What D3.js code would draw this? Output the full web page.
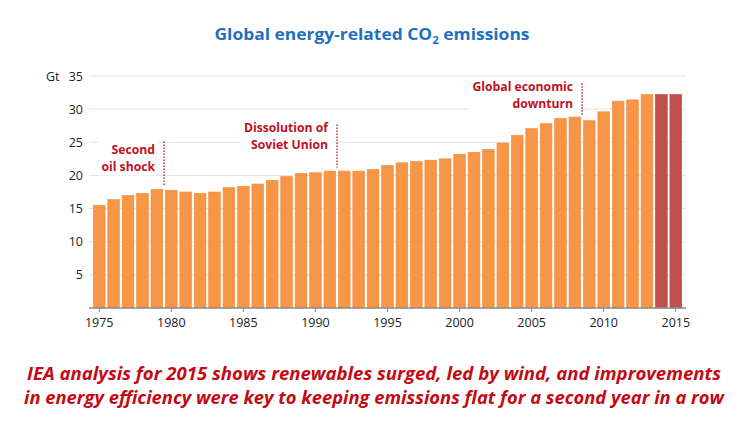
<!DOCTYPE html>
<html>
<head>
<meta charset="utf-8">
<script src="https://cdn.jsdelivr.net/npm/d3@7"></script>
<style>
  body { margin: 0; background: #fff; }
  svg { display: block; font-family: 'Open Sans', sans-serif; }
</style>
</head>
<body>
<div id="chart-area"></div>
<script>
const WIDTH = 743;
const HEIGHT = 428;
const MARGIN = {top: 76, right: 60, bottom: 120, left: 92};

// Gt CO2 per year
const years = d3.range(1975, 2016);
const emissions = [
  15.5, 16.35, 16.95, 17.3, 17.9, 17.75, 17.5, 17.3, 17.5, 18.15,
  18.35, 18.7, 19.25, 19.85, 20.3, 20.4, 20.65, 20.65, 20.65, 20.9,
  21.5, 21.9, 22.1, 22.3, 22.5, 23.2, 23.5, 23.9, 24.9, 26.05,
  27.05, 27.8, 28.6, 28.8, 28.25, 29.6, 31.2, 31.4, 32.2, 32.2, 32.2
];
const highlightYears = [2014, 2015];
const yTicks = [5, 10, 15, 20, 25, 30, 35];
const xTicks = [1975, 1980, 1985, 1990, 1995, 2000, 2005, 2010, 2015];
// event markers: year of dotted line, its top/bottom (Gt) and the label's first baseline (Gt)
const annotations = [
  {lines: ['Second', 'oil shock'], year: 1979.5, top: 25.1, bottom: 18.5, label: 23.3},
  {lines: ['Dissolution of', 'Soviet Union'], year: 1991.5, top: 27.7, bottom: 21.2, label: 26.5},
  {lines: ['Global economic', 'downturn'], year: 2008.5, top: 33.9, bottom: 29.1, label: 32.8}
];
const caption = [
  'IEA analysis for 2015 shows renewables surged, led by wind, and improvements',
  'in energy efficiency were key to keeping emissions flat for a second year in a row'
];

main();

function main() {
  const data = years.map((year, i) => ({year, value: emissions[i]}));
  const svg = d3.select('#chart-area').append('svg')
    .attr('width', WIDTH)
    .attr('height', HEIGHT);
  showGraph(svg, data);
}

function showGraph(svg, data) {
  const innerH = HEIGHT - MARGIN.top - MARGIN.bottom;
  const scaleY = d3.scaleLinear()
    .domain([0, 35])
    .range([MARGIN.top + innerH, MARGIN.top]);
  const scaleX = d3.scaleBand()
    .domain(years)
    .range([MARGIN.left, WIDTH - MARGIN.right])
    .paddingInner(0.19)
    .paddingOuter(0.095);
  const yearX = y => scaleX(Math.floor(y)) + scaleX.bandwidth() / 2 + (y % 1) * scaleX.step();

  svg.append('text')
    .attr('x', 372)
    .attr('y', 40)
    .attr('text-anchor', 'middle')
    .attr('fill', '#1f6fc0')
    .attr('font-size', 16.5)
    .attr('font-weight', 'bold')
    .attr('textLength', 315)
    .attr('lengthAdjust', 'spacingAndGlyphs')
    .html('Global energy-related CO<tspan font-size="11" dy="4">2</tspan><tspan dy="-4"> emissions</tspan>');

  // gridlines
  svg.append('g')
    .selectAll('line')
    .data(yTicks)
    .enter()
    .append('line')
    .attr('x1', 89)
    .attr('x2', 686)
    .attr('y1', d => scaleY(d))
    .attr('y2', d => scaleY(d))
    .attr('stroke', '#e3e3e3')
    .attr('stroke-width', 1);

  const axisLeftCall = d3.axisLeft(scaleY)
    .tickValues(yTicks)
    .tickSize(0)
    .tickPadding(8);
  const yAxis = svg.append('g')
    .attr('transform', `translate(${ 91 }, 0)`)
    .call(axisLeftCall);
  yAxis.select('.domain').remove();
  yAxis.selectAll('text')
    .attr('font-size', 12.5)
    .attr('font-family', 'Open Sans, sans-serif')
    .attr('fill', '#222');

  svg.append('text')
    .attr('x', 46)
    .attr('y', scaleY(35) + 4.5)
    .attr('font-size', 12.5)
    .attr('fill', '#222')
    .text('Gt');

  // annotations (white backed, covering gridlines)
  annotations.forEach(a => {
    const x = yearX(a.year);
    const t = svg.append('text')
      .attr('text-anchor', 'end')
      .attr('font-size', 12.2)
      .attr('font-weight', 'bold')
      .attr('fill', '#c0101e');
    a.lines.forEach((line, i) => {
      t.append('tspan')
        .attr('x', x - 9)
        .attr('y', scaleY(a.label) + i * 17)
        .text(line);
    });
    const box = t.node().getBBox();
    svg.insert('rect', () => t.node())
      .attr('x', box.x - 3)
      .attr('y', box.y - 1)
      .attr('width', box.width + 6)
      .attr('height', box.height + 2)
      .attr('fill', '#fff');
    svg.append('line')
      .attr('x1', x)
      .attr('x2', x)
      .attr('y1', scaleY(a.top))
      .attr('y2', scaleY(a.bottom))
      .attr('stroke', '#c0101e')
      .attr('stroke-width', 1.3)
      .attr('stroke-dasharray', '1.5,1.5');
  });

  svg.append('g')
    .selectAll('rect')
    .data(data)
    .enter()
    .append('rect')
    .attr('x', d => scaleX(d.year))
    .attr('y', d => scaleY(d.value))
    .attr('width', scaleX.bandwidth())
    .attr('height', d => scaleY(0) - scaleY(d.value))
    .attr('fill', d => highlightYears.includes(d.year) ? '#c0504d' : '#f79646')
    .attr('stroke', d => highlightYears.includes(d.year) ? '#b8403d' : '#f38a35')
    .attr('stroke-width', 0.6);

  const axisBottomCall = d3.axisBottom(scaleX)
    .tickValues(xTicks)
    .tickSizeOuter(0)
    .tickSizeInner(4)
    .tickPadding(6);
  const xAxis = svg.append('g')
    .attr('transform', `translate(0, ${ scaleY(0) })`)
    .call(axisBottomCall);
  xAxis.select('.domain')
    .attr('d', `M89,0H686`)
    .attr('stroke', '#8c8c8c')
    .attr('stroke-width', 1.5);
  xAxis.selectAll('line').attr('stroke', '#8c8c8c');
  xAxis.selectAll('text')
    .attr('font-size', 12.5)
    .attr('font-family', 'Open Sans, sans-serif')
    .attr('fill', '#222');

  const cap = svg.append('text')
    .attr('text-anchor', 'middle')
    .attr('font-size', 18)
    .attr('font-style', 'italic')
    .attr('font-weight', 'bold')
    .attr('fill', '#c40a14');
  caption.forEach((line, i) => {
    cap.append('tspan')
      .attr('x', 374)
      .attr('y', 380 + i * 23.5)
      .attr('textLength', i === 0 ? 694 : 700)
      .attr('lengthAdjust', 'spacingAndGlyphs')
      .text(line);
  });
}
</script>
</body>
</html>
